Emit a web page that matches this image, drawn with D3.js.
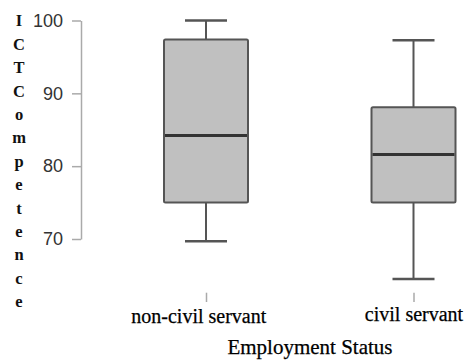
<!DOCTYPE html>
<html>
<head>
<meta charset="utf-8">
<script src="https://cdn.jsdelivr.net/npm/d3@7"></script>
<style>
  html, body { margin: 0; padding: 0; background: #fff; }
  svg { display: block; }
</style>
</head>
<body>
<svg id="chart" width="465" height="361"></svg>
<script>
const categories = ["non-civil servant", "civil servant"];
const whiskerLow = [69.7, 64.5];
const q1 = [75, 75];
const median = [84.2, 81.6];
const q3 = [97.4, 88.1];
const whiskerHigh = [100, 97.3];
const yTicks = [70, 80, 90, 100];
const xTitle = "Employment Status";
const yTitle = "ICTCompetence";

const svg = d3.select("#chart");

const y = d3.scaleLinear().domain([70, 100]).range([239, 20.5]);
const x = d3.scalePoint().domain(categories).range([206, 413.5]);
const boxW = 84, capW = 42;

// Y axis
const yAxis = svg.append("g").attr("transform", "translate(81,0)")
  .call(d3.axisLeft(y).tickValues(yTicks).tickSize(9).tickPadding(9).tickSizeOuter(0));
yAxis.select(".domain").attr("stroke", "#aaa").attr("stroke-width", 1.5);
yAxis.selectAll(".tick line").attr("stroke", "#aaa").attr("stroke-width", 1.5);
yAxis.selectAll(".tick text").attr("font-family", "Liberation Sans, Arial, sans-serif")
  .attr("font-size", 18).attr("fill", "#333");

// X axis
const xAxis = svg.append("g").attr("transform", "translate(0,292.7)")
  .call(d3.axisBottom(x).tickSize(9.3).tickSizeOuter(0));
xAxis.select(".domain").remove();
xAxis.selectAll(".tick line").attr("stroke", "#aaa").attr("stroke-width", 1.5);
const labelDx = [-7.7, 0];
const labelY = [30.8, 28];
xAxis.selectAll(".tick text")
  .attr("font-family", "Liberation Serif, Times New Roman, serif")
  .attr("font-size", 20).attr("fill", "#000")
  .attr("stroke", "#000").attr("stroke-width", 0.25)
  .attr("dy", null)
  .attr("y", (d, i) => labelY[i])
  .attr("dx", (d, i) => labelDx[i]);

// Boxes
const g = svg.append("g");
categories.forEach((c, i) => {
  const cx = x(c);
  const stroke = "#555";
  g.append("line").attr("x1", cx).attr("x2", cx).attr("y1", y(whiskerHigh[i])).attr("y2", y(q3[i]))
    .attr("stroke", stroke).attr("stroke-width", 2);
  g.append("line").attr("x1", cx).attr("x2", cx).attr("y1", y(q1[i])).attr("y2", y(whiskerLow[i]))
    .attr("stroke", stroke).attr("stroke-width", 2);
  g.append("line").attr("x1", cx - capW / 2).attr("x2", cx + capW / 2)
    .attr("y1", y(whiskerHigh[i])).attr("y2", y(whiskerHigh[i]))
    .attr("stroke", stroke).attr("stroke-width", 2.5);
  g.append("line").attr("x1", cx - capW / 2).attr("x2", cx + capW / 2)
    .attr("y1", y(whiskerLow[i])).attr("y2", y(whiskerLow[i]))
    .attr("stroke", stroke).attr("stroke-width", 2.5);
  g.append("rect").attr("x", cx - boxW / 2).attr("width", boxW)
    .attr("y", y(q3[i])).attr("height", y(q1[i]) - y(q3[i]))
    .attr("rx", 1.5)
    .attr("fill", "#c0c0c0").attr("stroke", stroke).attr("stroke-width", 2);
  g.append("line").attr("x1", cx - boxW / 2 + 1).attr("x2", cx + boxW / 2 - 1)
    .attr("y1", y(median[i])).attr("y2", y(median[i]))
    .attr("stroke", "#333").attr("stroke-width", 3);
});

// X title
svg.append("text").attr("x", 310).attr("y", 354).attr("text-anchor", "middle")
  .attr("font-family", "Liberation Serif, Times New Roman, serif")
  .attr("font-size", 21).attr("fill", "#000")
  .attr("stroke", "#000").attr("stroke-width", 0.25).text(xTitle);

// Y title (stacked letters)
const yt = svg.append("text").attr("text-anchor", "middle")
  .attr("font-family", "Liberation Serif, Times New Roman, serif")
  .attr("font-size", 16.5).attr("font-weight", "bold").attr("fill", "#111");
yt.selectAll("tspan").data(yTitle.split("")).join("tspan")
  .attr("x", 19).attr("y", (d, i) => 26.4 + i * 23.4).text(d => d);
</script>
</body>
</html>
